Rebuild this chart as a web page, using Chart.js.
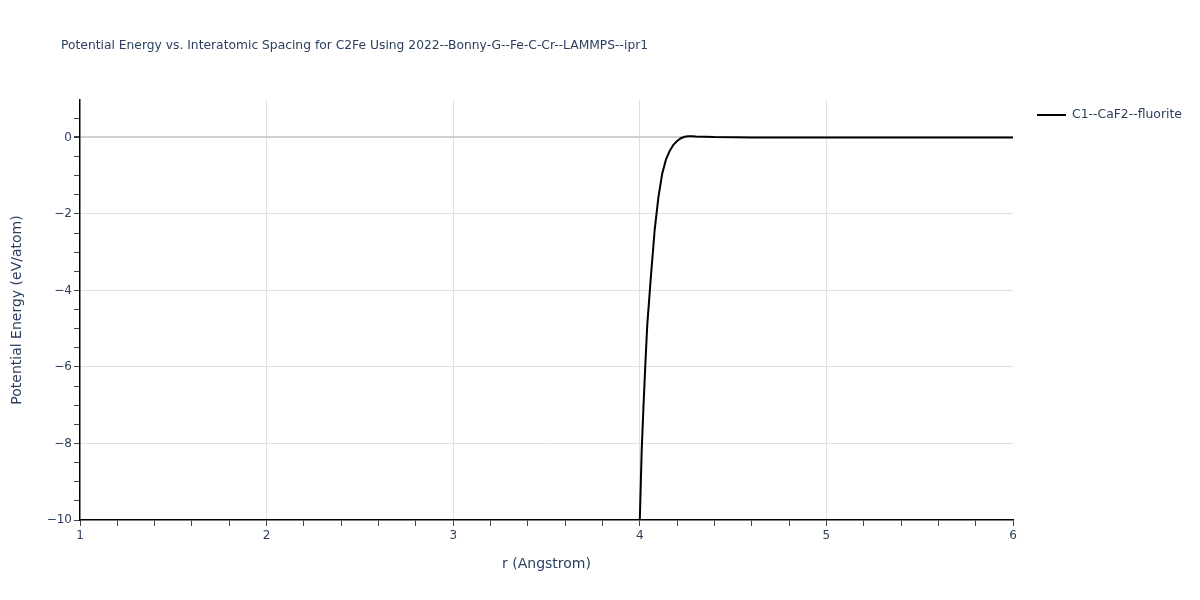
<!DOCTYPE html>
<html>
<head>
<meta charset="utf-8">
<script src="https://cdn.jsdelivr.net/npm/chart.js@4/dist/chart.umd.min.js"></script>
<style>
  html, body { margin: 0; padding: 0; background: #fff; }
  #wrap { width: 1200px; height: 600px; }
</style>
</head>
<body>
<div id="wrap"><canvas id="chart" width="1200" height="600"></canvas></div>
<script>
  /* Values */
  var chartTitle = 'Potential Energy vs. Interatomic Spacing for C2Fe Using 2022--Bonny-G--Fe-C-Cr--LAMMPS--ipr1';
  var seriesName = 'C1--CaF2--fluorite';
  var rValues = [4.00, 4.01, 4.02, 4.03, 4.04, 4.06, 4.08, 4.10, 4.12, 4.14, 4.16, 4.18, 4.20, 4.22,
                 4.24, 4.26, 4.28, 4.30, 4.35, 4.40, 4.50, 4.60, 4.80, 5.00, 5.50, 6.00];
  var energyValues = [-10.0, -8.2, -7.0, -5.9, -4.9, -3.6, -2.4, -1.55, -0.95, -0.58, -0.35, -0.19, -0.09, -0.02,
                      0.02, 0.03, 0.03, 0.025, 0.018, 0.01, 0.005, 0.002, 0, 0, 0, 0];
  var xMajorTicks = [1, 2, 3, 4, 5, 6];
  var yMajorTicks = [-10, -8, -6, -4, -2, 0];

  var FONT = '"DejaVu Sans", Verdana, sans-serif';
  var INK = '#2a3f5f';

  function isWhole(v) { return Math.abs(v - Math.round(v)) < 1e-9; }
  function fmt(v) { return v < 0 ? '\u2212' + Math.abs(v) : String(v); }

  var points = rValues.map(function (r, i) { return { x: r, y: energyValues[i] }; });

  /* title + legend drawn on top, plotly-style */
  var decor = {
    id: 'decor',
    afterDraw: function (chart) {
      var ctx = chart.ctx;
      ctx.save();
      ctx.fillStyle = INK;
      ctx.textBaseline = 'middle';
      ctx.textAlign = 'left';
      ctx.font = '12.3px ' + FONT;
      ctx.fillText(chartTitle, 61, 46);

      ctx.strokeStyle = '#000';
      ctx.lineWidth = 2;
      ctx.beginPath();
      ctx.moveTo(1037, 115);
      ctx.lineTo(1066, 115);
      ctx.stroke();
      ctx.font = '12.4px ' + FONT;
      ctx.fillText(seriesName, 1072, 115);
      ctx.restore();
    }
  };

  new Chart(document.getElementById('chart'), {
    type: 'line',
    data: {
      datasets: [{
        label: seriesName,
        data: points,
        borderColor: '#000',
        borderWidth: 2,
        pointRadius: 0,
        tension: 0,
        fill: false,
      }],
    },
    options: {
      responsive: false,
      animation: false,
      layout: { padding: { left: 0, top: 100, right: 187, bottom: 0 } },
      plugins: { legend: { display: false }, title: { display: false }, tooltip: { enabled: false } },
      scales: {
        x: {
          type: 'linear',
          min: 1,
          max: 6,
          afterBuildTicks: function (scale) {
            var t = [];
            for (var i = 5; i <= 30; i++) t.push({ value: i / 5 });
            scale.ticks = t;
          },
          afterFit: function (scale) { scale.height = 80; },
          ticks: {
            autoSkip: false,
            maxRotation: 0,
            padding: 3,
            color: INK,
            font: { family: FONT, size: 12 },
            callback: function (v) { return xMajorTicks.indexOf(Math.round(v)) >= 0 && isWhole(v) ? fmt(Math.round(v)) : ''; },
          },
          grid: {
            color: function (c) {
              var v = c.tick.value;
              return (isWhole(v) && v > 1 && v < 6) ? '#e0e0e0' : 'rgba(0,0,0,0)';
            },
            tickColor: '#444',
            tickLength: 6,
            lineWidth: 1,
          },
          border: { display: true, color: '#000', width: 1.5 },
          title: {
            display: true,
            text: 'r (Angstrom)',
            color: INK,
            font: { family: FONT, size: 14 },
            padding: { top: 0, bottom: 27 },
          },
        },
        y: {
          type: 'linear',
          min: -10,
          max: 0.98,
          afterBuildTicks: function (scale) {
            var t = [];
            for (var i = -20; i <= 1; i++) t.push({ value: i / 2 });
            scale.ticks = t;
          },
          afterFit: function (scale) { scale.width = 80; },
          ticks: {
            autoSkip: false,
            padding: 2,
            color: INK,
            font: { family: FONT, size: 12 },
            callback: function (v) { return yMajorTicks.indexOf(v) >= 0 ? fmt(v) : ''; },
          },
          grid: {
            color: function (c) {
              var v = c.tick.value;
              if (v === 0) return '#d0d0d0';
              return (yMajorTicks.indexOf(v) >= 0 && v > -10) ? '#e0e0e0' : 'rgba(0,0,0,0)';
            },
            lineWidth: function (c) { return c.tick.value === 0 ? 2 : 1; },
            tickColor: '#444',
            tickLength: 6,
          },
          border: { display: true, color: '#000', width: 1.5 },
          title: {
            display: true,
            text: 'Potential Energy (eV/atom)',
            color: INK,
            font: { family: FONT, size: 14 },
            padding: { top: 9, bottom: 0 },
          },
        },
      },
    },
    plugins: [decor],
  });
</script>
</body>
</html>
